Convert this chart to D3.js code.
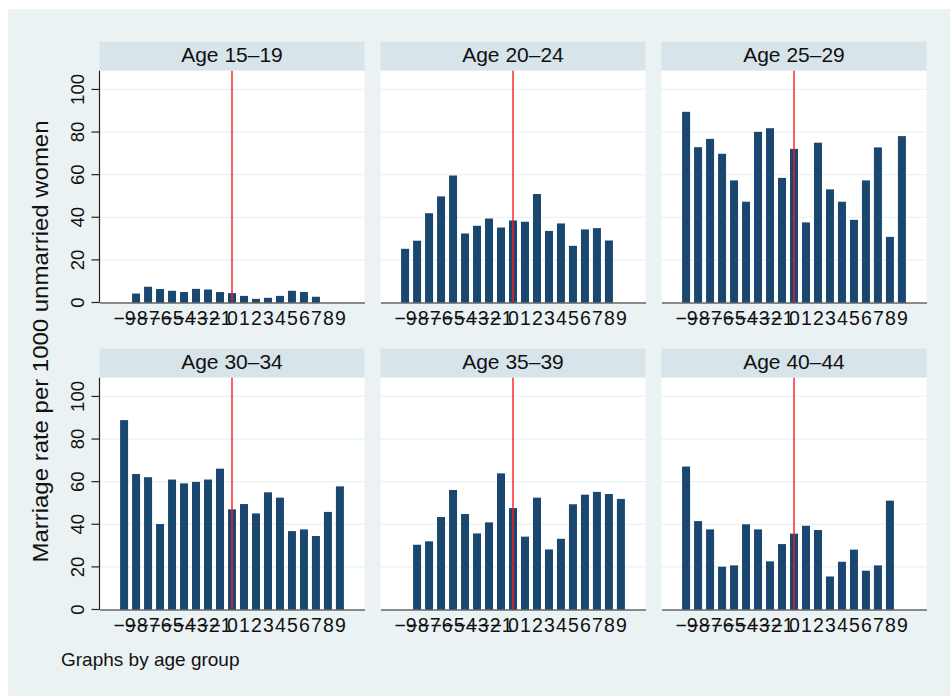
<!DOCTYPE html>
<html>
<head>
<meta charset="utf-8">
<script src="https://cdn.jsdelivr.net/npm/d3@7"></script>
<style>
  body { margin: 0; background: #ffffff; }
  text { font-family: "Liberation Sans", Arial, Helvetica, sans-serif; fill: #111; }
</style>
</head>
<body>
<svg id="chart" width="950" height="696"></svg>
<script>
// Years relative to the reform (x categories) and axis ticks
const offsets = [-9, -8, -7, -6, -5, -4, -3, -2, -1, 0, 1, 2, 3, 4, 5, 6, 7, 8, 9];
const xTicks = [-9, -8, -7, -6, -5, -4, -3, -2, -1, 0, 1, 2, 3, 4, 5, 6, 7, 8, 9];
const yTicks = [0, 20, 40, 60, 80, 100];
const cutoff = 0;

// Panels (age groups)
const ageGroups = ["Age 15\u201319", "Age 20\u201324", "Age 25\u201329", "Age 30\u201334", "Age 35\u201339", "Age 40\u201344"];

// Marriage rate per 1000 unmarried women, one value per offset (null = no data)
const rate15to19 = [null, 4.2, 7.4, 6.3, 5.5, 4.9, 6.4, 6.1, 4.9, 4.4, 3.1, 1.7, 2.2, 3.1, 5.5, 4.9, 2.7, null, null];
const rate20to24 = [25.2, 29.0, 41.9, 49.8, 59.6, 32.4, 36.0, 39.4, 35.2, 38.5, 37.9, 50.9, 33.6, 37.1, 26.6, 34.3, 34.9, 29.1, null];
const rate25to29 = [89.5, 72.9, 76.8, 69.8, 57.3, 47.3, 80.1, 81.8, 58.5, 72.1, 37.6, 75.0, 53.1, 47.3, 38.8, 57.3, 72.8, 30.8, 78.1];
const rate30to34 = [88.9, 63.6, 62.1, 40.1, 61.0, 59.2, 59.9, 61.0, 66.1, 47.0, 49.5, 45.1, 55.0, 52.5, 36.8, 37.6, 34.5, 45.8, 57.8];
const rate35to39 = [null, 30.4, 32.0, 43.4, 56.1, 44.8, 35.7, 40.9, 63.9, 47.6, 34.2, 52.5, 28.2, 33.2, 49.4, 53.9, 55.2, 54.2, 51.9];
const rate40to44 = [67.1, 41.5, 37.6, 20.1, 20.7, 40.0, 37.6, 22.6, 30.7, 35.6, 39.3, 37.3, 15.5, 22.4, 28.1, 18.2, 20.7, 51.1, null];

const panelSeries = [rate15to19, rate20to24, rate25to29, rate30to34, rate35to39, rate40to44];

// Layout
const W = 950, H = 696;
const colLeft = [99.5, 380.5, 661.5];
const rowTop = [70.7, 377.7];
const plotW = 265, plotH = 231.8, stripH = 29;

const colors = {
  outer: "#EAF2F3",
  strip: "#D7E4EA",
  grid: "#EAF2F3",
  bar: "#1A476F",
  cutoff: "#FF1A1A",
  axis: "#222"
};

const svg = d3.select("#chart");

svg.append("rect")
  .attr("x", 8).attr("y", 9)
  .attr("width", W - 8).attr("height", H - 9)
  .attr("fill", colors.outer);

const x = d3.scaleLinear().domain([-11.05, 11.05]).range([0, plotW]);
const y = d3.scaleLinear().domain([0, 108.8]).range([plotH, 0]);
const barW = x(0.667) - x(0);

panelSeries.forEach((series, i) => {
  const col = i % 3, row = Math.floor(i / 3);
  const g = svg.append("g").attr("transform", `translate(${colLeft[col]},${rowTop[row]})`);

  // strip with the age group
  g.append("rect")
    .attr("x", 0).attr("y", -stripH)
    .attr("width", plotW).attr("height", stripH)
    .attr("fill", colors.strip);
  g.append("text")
    .attr("x", plotW / 2).attr("y", -8.6)
    .attr("text-anchor", "middle")
    .attr("font-size", 21)
    .text(ageGroups[i]);

  // plot region
  g.append("rect")
    .attr("x", 0).attr("y", 0)
    .attr("width", plotW).attr("height", plotH)
    .attr("fill", "#ffffff");

  // horizontal grid
  g.selectAll(".grid").data(yTicks.filter(t => t > 0)).join("line")
    .attr("x1", 0).attr("x2", plotW)
    .attr("y1", d => y(d)).attr("y2", d => y(d))
    .attr("stroke", colors.grid).attr("stroke-width", 1.2);

  // bars
  const rows = offsets.map((o, k) => ({ o, v: series[k] })).filter(d => d.v !== null);
  g.selectAll(".bar").data(rows).join("rect")
    .attr("x", d => x(d.o) - barW / 2)
    .attr("y", d => y(d.v))
    .attr("width", barW)
    .attr("height", d => y(0) - y(d.v))
    .attr("fill", colors.bar);

  // reform line
  g.append("line")
    .attr("x1", x(cutoff)).attr("x2", x(cutoff))
    .attr("y1", 0).attr("y2", plotH)
    .attr("stroke", colors.cutoff).attr("stroke-width", 1.4);

  // x axis
  const xAxis = d3.axisBottom(x).tickValues(xTicks).tickSize(0).tickPadding(8);
  const gx = g.append("g").attr("transform", `translate(0,${plotH})`).call(xAxis);
  gx.select(".domain").attr("stroke", colors.axis).attr("stroke-width", 1.2);
  gx.selectAll("text")
    .attr("font-size", 19.5)
    .attr("font-family", "'Liberation Sans', Arial, sans-serif")
    .attr("fill", "#111")
    .attr("dy", null)
    .attr("y", 22.6);

  // y axis on the first column only
  if (col === 0) {
    g.append("line")
      .attr("x1", 0).attr("x2", 0).attr("y1", 0).attr("y2", plotH)
      .attr("stroke", colors.axis).attr("stroke-width", 1.2);
    g.selectAll(".ytick").data(yTicks).join("line")
      .attr("x1", -8).attr("x2", 0)
      .attr("y1", d => y(d)).attr("y2", d => y(d))
      .attr("stroke", colors.axis).attr("stroke-width", 1.2);
    g.selectAll(".ylab").data(yTicks).join("text")
      .attr("transform", d => `translate(-16,${y(d)}) rotate(-90)`)
      .attr("text-anchor", "middle")
      .attr("font-size", 18.5)
      .text(d => d);
  }
});

// y axis title
svg.append("text")
  .attr("transform", "translate(48,341.5) rotate(-90)")
  .attr("text-anchor", "middle")
  .attr("font-size", 22.5)
  .attr("textLength", 442)
  .attr("lengthAdjust", "spacingAndGlyphs")
  .text("Marriage rate per 1000 unmarried women");

// by-note
svg.append("text")
  .attr("x", 61).attr("y", 666)
  .attr("font-size", 19)
  .text("Graphs by age group");
</script>
</body>
</html>
